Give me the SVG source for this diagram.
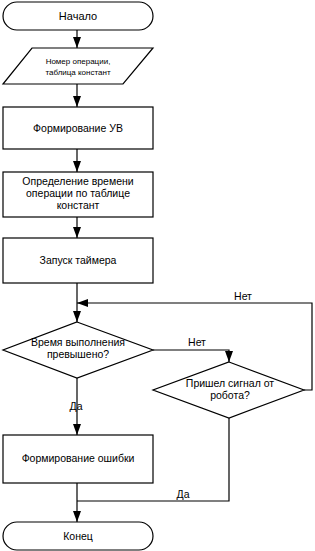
<svg xmlns="http://www.w3.org/2000/svg" width="315" height="551" viewBox="0 0 315 551">
<style>
.s{fill:#fff;stroke:#000;stroke-width:1.2}
.c{fill:none;stroke:#000;stroke-width:1.2}
text{font-family:"Liberation Sans",Arial,sans-serif;font-size:10.5px;fill:#000;text-anchor:middle}
.sm{font-size:8px}
</style>
<defs>
<marker id="a" markerWidth="11" markerHeight="8" refX="11" refY="4" orient="auto" markerUnits="userSpaceOnUse" viewBox="0 0 11 8">
<path d="M0,0 L11,4 L0,8 Z" fill="#000"/>
</marker>
</defs>
<rect width="315" height="551" fill="#fff"/>
<g id="connectors">
<line class="c" x1="77" y1="30" x2="77" y2="48" marker-end="url(#a)"/>
<line class="c" x1="77" y1="84" x2="77" y2="107" marker-end="url(#a)"/>
<line class="c" x1="77" y1="149" x2="77" y2="172" marker-end="url(#a)"/>
<line class="c" x1="77" y1="217" x2="77" y2="238" marker-end="url(#a)"/>
<line class="c" x1="77" y1="283" x2="77" y2="322" marker-end="url(#a)"/>
<polyline class="c" points="304,390 312,390 312,303 77,303" marker-end="url(#a)"/>
<polyline class="c" points="153,350 229,350 229,362" marker-end="url(#a)"/>
<line class="c" x1="77" y1="378" x2="77" y2="435" marker-end="url(#a)"/>
<polyline class="c" points="229,418 229,501 77,501"/>
<line class="c" x1="77" y1="483" x2="77" y2="522" marker-end="url(#a)"/>
<text x="243" y="300">Нет</text>
<text x="197" y="346">Нет</text>
<text x="76" y="410">Да</text>
<text x="183" y="498">Да</text>
</g>
<g id="start">
<rect class="s" x="3" y="2" width="150" height="28" rx="14"/>
<text x="78" y="20" style="font-size:11px">Начало</text>
</g>
<g id="input">
<polygon class="s" points="32,48 153,48 123,84 3,84"/>
<text class="sm" x="78" y="64">Номер операции,</text>
<text class="sm" x="78" y="75">таблица констант</text>
</g>
<g id="form-uv">
<rect class="s" x="3" y="107" width="150" height="42"/>
<text x="78" y="132">Формирование УВ</text>
</g>
<g id="determine">
<rect class="s" x="3" y="172" width="150" height="45"/>
<text x="78" y="185">Определение времени</text>
<text x="78" y="197">операции по таблице</text>
<text x="78" y="209">констант</text>
</g>
<g id="timer">
<rect class="s" x="3" y="238" width="150" height="45"/>
<text x="78" y="264">Запуск таймера</text>
</g>
<g id="dec1">
<polygon class="s" points="77,322 153,350 77,378 3,350"/>
<text x="78" y="346">Время выполнения</text>
<text x="78" y="358">превышено?</text>
</g>
<g id="dec2">
<polygon class="s" points="229,362 304,390 229,418 153,390"/>
<text x="230" y="387">Пришел сигнал от</text>
<text x="230" y="399">робота?</text>
</g>
<g id="error">
<rect class="s" x="3" y="435" width="150" height="48"/>
<text x="78" y="462">Формирование ошибки</text>
</g>
<g id="end">
<rect class="s" x="3" y="522" width="150" height="28" rx="14"/>
<text x="78" y="540">Конец</text>
</g>
</svg>
